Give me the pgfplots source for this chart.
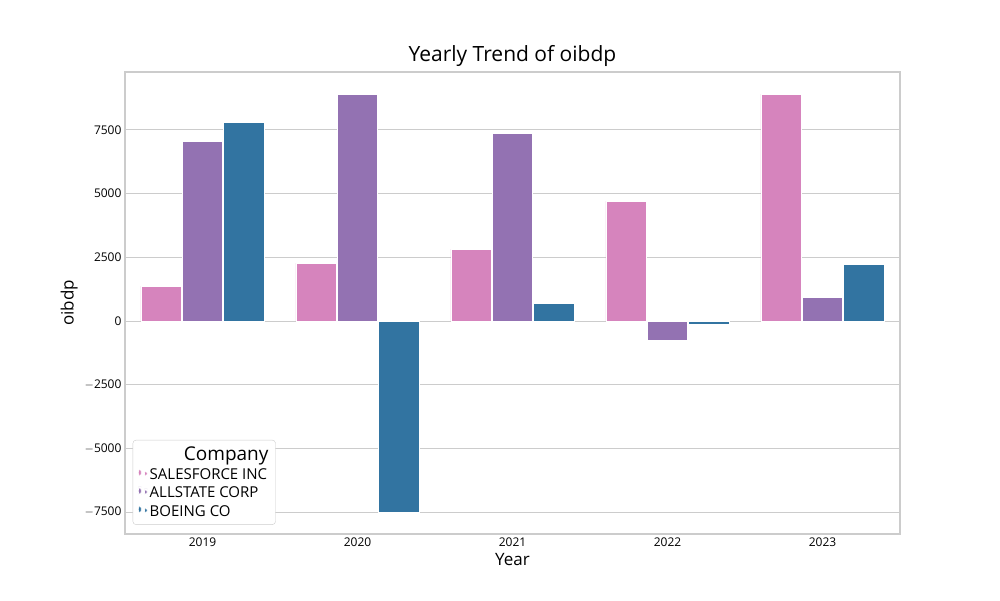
\documentclass[border=0pt]{standalone}
\usepackage{pgfplots}
\pgfplotsset{compat=1.18}
\usepackage{fontspec}
\setmainfont{Open Sans}
\definecolor{sf}{HTML}{D684BD}
\definecolor{al}{HTML}{9372B2}
\definecolor{bo}{HTML}{3274A1}
\definecolor{gr}{HTML}{CCCCCC}
\begin{document}
\begin{tikzpicture}
\path[use as bounding box] (-125pt,-66pt) rectangle (875pt,534pt);
\begin{axis}[at={(0pt,0pt)},anchor=south west,scale only axis,width=775pt,height=462pt,
 xmin=-0.5,xmax=4.5,ymin=-8363,ymax=9777,
 xtick={0,1,2,3,4},xticklabels={2019,2020,2021,2022,2023},
 ytick={-7500,-5000,-2500,0,2500,5000,7500},
 yticklabels={$-$7500,$-$5000,$-$2500,0,2500,5000,7500},
 ymajorgrids,grid style={gr,line width=1pt},axis line style={gr,line width=1.2pt},
 major tick length=0pt,tick label style={font=\fontsize{12}{14}\selectfont},
 xlabel={Year},ylabel={oibdp},label style={font=\fontsize{17}{20}\selectfont},
 title={Yearly Trend of oibdp},title style={font=\fontsize{21}{24}\selectfont,yshift=-4pt},
 legend style={at={(0.01,0.02)},anchor=south west,draw=gr,rounded corners=3pt,font=\fontsize{15}{18}\selectfont,row sep=2pt,inner sep=5pt},
 legend cell align=left,
 area legend,
 ybar,bar width=0.26,
 every axis plot/.append style={draw=white,line width=0.8pt}]
\addlegendimage{empty legend}\addlegendentry{\hspace{1.2cm}\fontsize{19}{22}\selectfont Company}
\addplot[fill=sf,bar shift=-0.267] coordinates {(0,1374)(1,2277)(2,2827)(3,4711)(4,8912)};
\addlegendentry{SALESFORCE INC}
\addplot[fill=al,bar shift=0] coordinates {(0,7067)(1,8912)(2,7381)(3,-746)(4,942)};
\addlegendentry{ALLSTATE CORP}
\addplot[fill=bo,bar shift=0.267] coordinates {(0,7813)(1,-7499)(2,707)(3,-118)(4,2238)};
\addlegendentry{BOEING CO}
\end{axis}
\end{tikzpicture}
\end{document}
